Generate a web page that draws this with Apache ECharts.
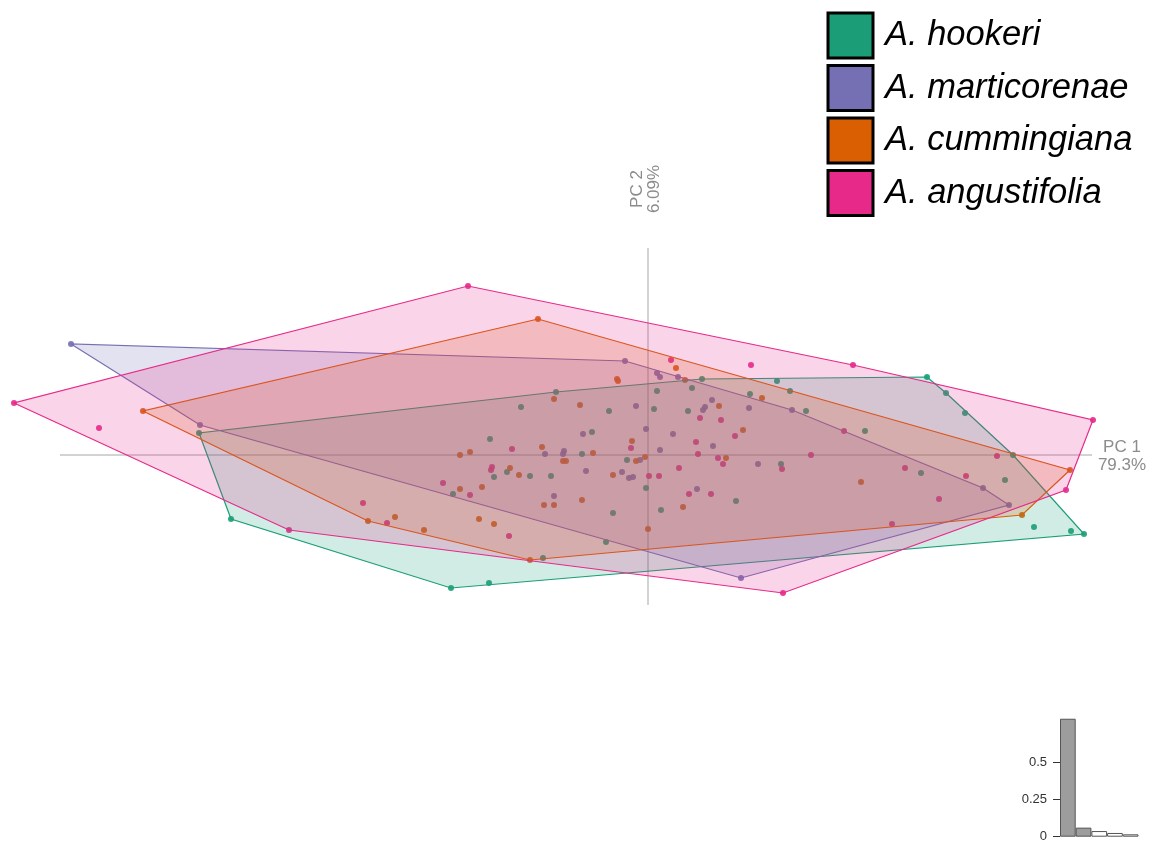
<!DOCTYPE html>
<html>
<head>
<meta charset="utf-8">
<title>PCA – Azorella</title>
<script src="https://cdn.jsdelivr.net/npm/echarts@6/dist/echarts.min.js"></script>
<style>
  html, body { margin: 0; padding: 0; background: #fff; }
  #chart { width: 1161px; height: 844px; }
</style>
</head>
<body>
<div id="chart"></div>
<script>
// Species names and their colours (Dark2)
const speciesNames = ['A. hookeri', 'A. marticorenae', 'A. cummingiana', 'A. angustifolia'];
const speciesColors = ['#1B9E77', '#7570B3', '#D95F02', '#E7298A'];

// PC scores [PC1, PC2] per species
const hookeri = [
  [-4.49, 0.22], [-4.17, -0.64], [-1.97, -1.33], [-1.59, -1.28], [-1.05, -1.03], [-0.42, -0.87],
  [-0.35, -0.58], [-0.92, 0.63], [-1.27, 0.48], [-0.39, 0.44], [-0.56, 0.23], [-1.58, 0.16],
  [-0.66, 0.01], [-1.41, -0.17], [-1.54, -0.22], [-1.18, -0.21], [-0.97, -0.21], [-1.95, -0.39],
  [-0.21, -0.05], [-0.02, -0.33], [0.09, 0.64], [0.06, 0.46], [0.13, -0.55], [0.40, 0.44],
  [0.44, 0.67], [0.54, 0.76], [0.88, -0.46], [1.02, 0.61], [1.29, 0.74], [1.42, 0.64],
  [1.33, -0.09], [1.58, 0.44], [2.17, 0.24], [2.79, 0.78], [2.98, 0.62], [3.17, 0.42],
  [2.73, -0.18], [3.65, 0.00], [3.57, -0.25], [3.86, -0.72], [4.23, -0.76], [4.36, -0.79]
];
const marticorenae = [
  [-5.77, 1.11], [-4.48, 0.30], [-0.23, 0.94], [-0.12, 0.49], [-0.02, 0.26], [-0.65, 0.21],
  [-0.84, 0.04], [-0.85, 0.01], [-1.03, 0.01], [-0.08, -0.05], [-0.62, -0.16], [-0.26, -0.17],
  [-0.19, -0.23], [-0.15, -0.22], [-0.94, -0.41], [0.09, 0.82], [0.12, 0.78], [0.30, 0.78],
  [0.64, 0.55], [0.55, 0.45], [0.57, 0.48], [1.01, 0.47], [1.44, 0.45], [0.25, 0.21],
  [0.12, 0.05], [0.65, 0.09], [1.10, -0.09], [0.49, -0.34], [3.35, -0.33], [3.61, -0.50],
  [0.93, -1.23]
];
const cummingiana = [
  [-5.05, 0.44], [-1.10, 1.36], [-2.80, -0.66], [-2.53, -0.62], [-2.24, -0.75], [-1.69, -0.64],
  [-1.54, -0.69], [-1.18, -1.05], [-0.31, 0.76], [-0.30, 0.74], [-0.94, 0.56], [-0.68, 0.50],
  [-1.06, 0.08], [-1.88, 0.00], [-1.78, 0.03], [-0.55, 0.02], [-0.16, 0.14], [-0.12, -0.06],
  [-0.03, -0.02], [-0.85, -0.06], [-0.82, -0.06], [-1.38, -0.13], [-1.29, -0.20], [-0.35, -0.20],
  [-1.88, -0.34], [-1.66, -0.32], [-1.04, -0.50], [-0.94, -0.50], [-0.66, -0.45], [0.00, -0.74],
  [0.28, 0.87], [0.37, 0.75], [0.71, 0.49], [1.14, 0.57], [0.95, 0.25], [0.78, -0.03],
  [0.35, -0.52], [2.13, -0.27], [4.22, -0.15], [3.74, -0.60]
];
const angustifolia = [
  [-6.34, 0.52], [-5.49, 0.27], [-1.80, 1.69], [-3.59, -0.75], [-2.85, -0.48], [-2.61, -0.68],
  [-1.39, -0.81], [-1.36, 0.06], [-1.56, -0.12], [-1.57, -0.15], [-2.05, -0.28], [-1.78, -0.40],
  [-0.17, 0.07], [0.01, -0.21], [0.11, -0.21], [0.23, 0.95], [1.03, 0.90], [2.05, 0.90],
  [0.52, 0.37], [0.73, 0.35], [0.87, 0.19], [0.48, 0.13], [0.50, 0.01], [0.70, -0.03],
  [0.75, -0.09], [0.31, -0.13], [0.41, -0.39], [0.63, -0.39], [1.34, -0.14], [1.63, 0.00],
  [1.96, 0.24], [2.57, -0.13], [3.18, -0.21], [2.91, -0.44], [3.49, -0.01], [2.44, -0.69],
  [4.45, 0.35], [4.18, -0.35], [1.35, -1.38]
];
const speciesScores = [hookeri, marticorenae, cummingiana, angustifolia];

// Axis cross lines through the origin and their labels
const pc1Line = [[-5.88, 0], [4.44, 0]];
const pc2Line = [[0, 2.07], [0, -1.50]];
const pc1Label = ['PC 1', '79.3%'];
const pc2Label = ['PC 2', '6.09%'];

// Scree inset: share of variance per component
const screeComponents = ['PC1', 'PC2', 'PC3', 'PC4', 'PC5'];
const screeValues = [0.793, 0.0609, 0.038, 0.025, 0.016];
const screeTicks = [0, 0.25, 0.5];

// Convex hull (monotone chain) of a set of [x, y] points
function convexHull(points) {
  const p = points.slice().sort((a, b) => a[0] - b[0] || a[1] - b[1]);
  const cross = (o, a, b) => (a[0] - o[0]) * (b[1] - o[1]) - (a[1] - o[1]) * (b[0] - o[0]);
  const lower = [];
  for (const pt of p) {
    while (lower.length >= 2 && cross(lower[lower.length - 2], lower[lower.length - 1], pt) <= 0) lower.pop();
    lower.push(pt);
  }
  const upper = [];
  for (let i = p.length - 1; i >= 0; i--) {
    const pt = p[i];
    while (upper.length >= 2 && cross(upper[upper.length - 2], upper[upper.length - 1], pt) <= 0) upper.pop();
    upper.push(pt);
  }
  upper.pop(); lower.pop();
  return lower.concat(upper);
}

function hexToRgba(hex, a) {
  const n = parseInt(hex.slice(1), 16);
  return `rgba(${(n >> 16) & 255},${(n >> 8) & 255},${n & 255},${a})`;
}

const chart = echarts.init(document.getElementById('chart'), null, { renderer: 'canvas' });

const series = [];

// Origin cross lines
series.push({
  type: 'line', xAxisIndex: 0, yAxisIndex: 0, data: pc1Line, symbol: 'none', silent: true,
  lineStyle: { color: '#a6a6a6', width: 1 }, z: 1, animation: false
});
series.push({
  type: 'line', xAxisIndex: 0, yAxisIndex: 0, data: pc2Line, symbol: 'none', silent: true,
  lineStyle: { color: '#a6a6a6', width: 1 }, z: 1, animation: false
});

// Points
speciesNames.forEach((name, i) => {
  series.push({
    name, type: 'scatter', xAxisIndex: 0, yAxisIndex: 0,
    data: speciesScores[i], symbol: 'circle', symbolSize: 6,
    itemStyle: { color: speciesColors[i], opacity: 0.9 },
    z: 2, animation: false
  });
});

// Convex hull polygons
speciesNames.forEach((name, i) => {
  const hull = convexHull(speciesScores[i]);
  series.push({
    name, type: 'custom', xAxisIndex: 0, yAxisIndex: 0,
    data: [0], silent: true, z: 3 + i, animation: false,
    renderItem: (params, api) => ({
      type: 'polygon',
      shape: { points: hull.map(p => api.coord(p)) },
      style: {
        fill: hexToRgba(speciesColors[i], 0.2),
        stroke: speciesColors[i],
        lineWidth: 1.2
      }
    })
  });
});

// Scree bars
series.push({
  type: 'bar', xAxisIndex: 1, yAxisIndex: 1, data: screeValues.map((v, i) => ({
    value: v,
    itemStyle: { color: i < 2 ? '#9d9d9d' : '#ffffff' }
  })),
  barWidth: '100%', silent: true, animation: false,
  itemStyle: { borderColor: '#555', borderWidth: 1 }
});

const option = {
  backgroundColor: '#ffffff',
  animation: false,
  grid: [
    { left: 0, top: 0, width: 1161, height: 844, containLabel: false },
    { left: 1060, top: 717.7, width: 78.5, height: 119, containLabel: false }
  ],
  xAxis: [
    { type: 'value', gridIndex: 0, min: -6.48, max: 5.13, show: false },
    { type: 'category', gridIndex: 1, data: screeComponents, show: false }
  ],
  yAxis: [
    { type: 'value', gridIndex: 0, min: -3.89, max: 4.55, show: false },
    {
      type: 'value', gridIndex: 1, min: 0, max: 0.8, interval: 0.25,
      axisLine: { show: false },
      splitLine: { show: false },
      axisTick: { show: true, length: 7, customValues: screeTicks, lineStyle: { color: '#333' } },
      axisLabel: {
        customValues: screeTicks, margin: 13, fontSize: 13, color: '#333',
        fontFamily: 'Liberation Sans, Arial, sans-serif',
        formatter: v => (v === 0 ? '0' : String(v))
      }
    }
  ],
  legend: {
    orient: 'vertical', left: 826.5, top: 11.5, padding: 0,
    itemWidth: 45, itemHeight: 45, itemGap: 4.5,
    selectedMode: false,
    data: speciesNames.map((name, i) => ({
      name, icon: 'rect',
      itemStyle: { color: speciesColors[i], borderColor: '#000', borderWidth: 3, opacity: 1 }
    })),
    textStyle: {
      fontSize: 34.5, fontStyle: 'italic', color: '#000',
      fontFamily: 'Liberation Sans, Arial, sans-serif',
      padding: [0, 0, 0, 7]
    }
  },
  graphic: [
    {
      type: 'text', x: 1122, y: 456, silent: true,
      style: {
        text: pc1Label.join('\n'), fill: '#8c8c8c', fontSize: 17, lineHeight: 18,
        fontFamily: 'Liberation Sans, Arial, sans-serif',
        align: 'center', verticalAlign: 'middle'
      }
    },
    {
      type: 'text', x: 646, y: 189, rotation: Math.PI / 2, silent: true,
      style: {
        text: pc2Label.join('\n'), fill: '#8c8c8c', fontSize: 17, lineHeight: 17,
        fontFamily: 'Liberation Sans, Arial, sans-serif',
        align: 'center', verticalAlign: 'middle'
      }
    }
  ],
  series
};

chart.setOption(option);
</script>
</body>
</html>
